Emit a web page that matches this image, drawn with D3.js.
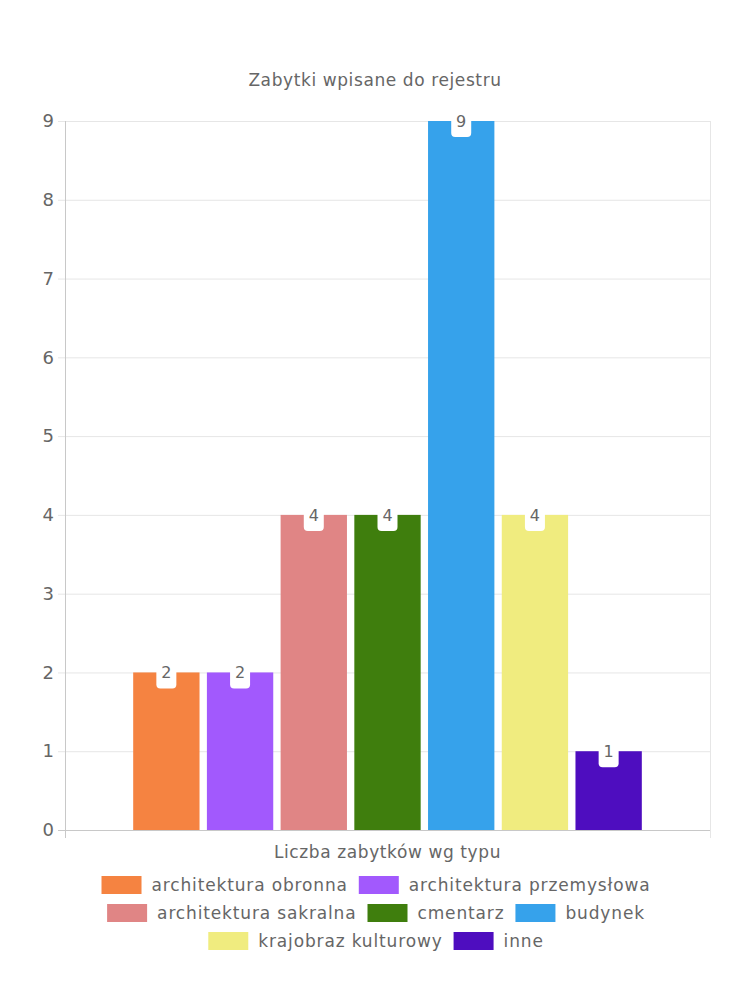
<!DOCTYPE html>
<html><head><meta charset="utf-8">
<script src="https://cdn.jsdelivr.net/npm/d3@7"></script>
<style>body{margin:0;background:#fff}svg{display:block}text{font-family:"DejaVu Sans",sans-serif;fill:#666}</style>
</head><body><svg id="c" width="750" height="1000"></svg>
<script>
const title = "Zabytki wpisane do rejestru";
const category = "Liczba zabytków wg typu";
const seriesNames = ["architektura obronna","architektura przemysłowa","architektura sakralna","cmentarz","budynek","krajobraz kulturowy","inne"];
const seriesValues = [2,2,4,4,9,4,1];
const seriesColors = ["#f58341","#a259fd","#e08585","#3f7e0d","#36a2eb","#f0ec7f","#4e0dbf"];
const yTicks = [0,1,2,3,4,5,6,7,8,9];

const svg = d3.select("#c");
const W=750, m={l:65,r:710,t:121,b:830};
const FS=17, LS="0.6px", LLS="0.85px";

const y = d3.scaleLinear().domain([0,9]).range([m.b,m.t]);
const catStart = m.l + (m.r-m.l)*0.1, catW=(m.r-m.l)*0.8;
const xs = d3.scaleBand().domain(seriesNames).range([catStart,catStart+catW]).paddingInner(0.1).paddingOuter(0.05);

svg.append("text").attr("x",W/2).attr("y",86).attr("text-anchor","middle").style("font-size",FS+"px").style("letter-spacing",LS).text(title);

const g = svg.append("g");
g.selectAll(".gl").data(yTicks).join("line")
 .attr("x1",m.l-7).attr("x2",m.r).attr("y1",d=>y(d)+0.5).attr("y2",d=>y(d)+0.5)
 .attr("stroke",d=>d===0?"#c8c8c8":"#e6e6e6");
g.append("line").attr("x1",m.l+0.5).attr("x2",m.l+0.5).attr("y1",m.t).attr("y2",m.b+8).attr("stroke","#c8c8c8");
g.append("line").attr("x1",m.r+0.5).attr("x2",m.r+0.5).attr("y1",m.t).attr("y2",m.b+8).attr("stroke","#e6e6e6");

const yAxis = svg.append("g").attr("transform",`translate(${m.l-11},0)`)
 .call(d3.axisLeft(y).tickValues(yTicks).tickSize(0).tickPadding(0).tickFormat(d3.format("d")));
yAxis.select(".domain").remove();
yAxis.selectAll("text").attr("font-family",null).style("font-size","18px").attr("fill","#666");

svg.selectAll(".bar").data(seriesNames).join("rect")
 .attr("x",d=>xs(d)).attr("width",xs.bandwidth())
 .attr("y",(d,i)=>y(seriesValues[i])).attr("height",(d,i)=>m.b-y(seriesValues[i]))
 .attr("fill",(d,i)=>seriesColors[i]);

const lab = svg.selectAll(".lab").data(seriesNames).join("g")
 .attr("transform",(d,i)=>`translate(${xs(d)+xs.bandwidth()/2},${y(seriesValues[i])})`);
lab.append("rect").attr("x",-10).attr("y",-10).attr("width",20).attr("height",26).attr("rx",4).attr("fill","#fff");
lab.append("text").attr("text-anchor","middle").attr("y",6).style("font-size","16px").text((d,i)=>seriesValues[i]);

svg.append("text").attr("x",(m.l+m.r)/2).attr("y",858).attr("text-anchor","middle").style("font-size",FS+"px").style("letter-spacing",LS).text(category);

const boxW=40, boxH=18, gapT=10, itemGap=11, maxW=610;
const tmp = svg.append("g");
const items = seriesNames.map((n,i)=>{
  const t = tmp.append("text").style("font-size",FS+"px").style("letter-spacing",LLS).text(n);
  const w = t.node().getComputedTextLength(); t.remove();
  return {n, c:seriesColors[i], w: boxW+gapT+w};
});
tmp.remove();
const rows=[[]]; let cw=0;
items.forEach(it=>{ if(cw>0 && cw+itemGap+it.w>maxW){rows.push([]);cw=0;} rows[rows.length-1].push(it); cw+= (cw>0?itemGap:0)+it.w;});
rows.forEach((r,ri)=>{
  const tw = d3.sum(r,d=>d.w)+itemGap*(r.length-1);
  let x0 = W/2 - tw/2 + 1;
  const yy = 885 + ri*28;
  r.forEach(it=>{
    svg.append("rect").attr("x",x0).attr("y",yy-9).attr("width",boxW).attr("height",boxH).attr("fill",it.c);
    svg.append("text").attr("x",x0+boxW+gapT).attr("y",yy+6).style("font-size",FS+"px").style("letter-spacing",LLS).text(it.n);
    x0 += it.w+itemGap;
  });
});
</script></body></html>
